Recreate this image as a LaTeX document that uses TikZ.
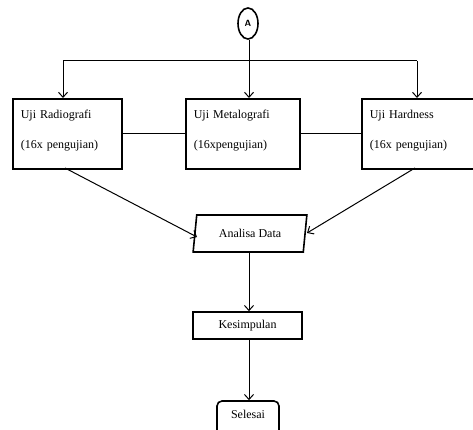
\documentclass[tikz,border=0pt]{standalone}
\usepackage{fontspec}
\setmainfont{Liberation Serif}
\usetikzlibrary{shapes.geometric,arrows.meta}

\begin{document}
\begin{tikzpicture}[x=1pt,y=-1pt]
\tikzstyle{every node}=[font=\fontsize{12}{15}\selectfont]
\tikzstyle{box}=[draw,line width=1.6pt,minimum height=70pt,align=left,anchor=north west,inner xsep=8pt]
\tikzstyle{arr}=[-{Straight Barb[length=5pt,width=9pt]},line width=1pt]
\useasboundingbox (0,0) rectangle (473,430);
\clip (0,0) rectangle (473,430);
\node[draw,ellipse,line width=1.6pt,minimum width=20pt,minimum height=31pt,inner sep=0pt,font=\fontsize{9}{10}\selectfont\bfseries\sffamily] (A) at (248,23.5) {A};
\node[box,minimum width=109pt,text width=93pt] (uji1) at (12,98) {Uji Radiografi\\[15pt](16x pengujian)\\[-6pt]\mbox{}};
\node[box,minimum width=114pt,text width=98pt] (uji2) at (185,98) {Uji Metalografi\\[15pt](16xpengujian)\\[-6pt]\mbox{}};
\node[box,minimum width=117pt,text width=101pt] (uji3) at (361,98) {Uji Hardness\\[15pt](16x pengujian)\\[-6pt]\mbox{}};
\node[draw,trapezium,trapezium left angle=76,trapezium right angle=104,trapezium stretches=true,line width=1.6pt,minimum width=114pt,minimum height=37pt,inner sep=0pt] (analisa) at (250,233.5) {Analisa Data};
\node[draw,line width=1.6pt,minimum width=109pt,minimum height=27pt,inner sep=0pt] (kes) at (247.5,325.5) {Kesimpulan};
\node[draw,line width=1.6pt,rounded corners=5pt,minimum width=62pt,minimum height=40pt,inner sep=0pt,text depth=14pt] (selesai) at (248,421) {Selesai};
\coordinate (jA) at (249,61);
\coordinate (j1) at (63,61);
\coordinate (j3) at (417,61);
\draw[line width=1pt] (A.south-|jA) -- (jA);
\draw[line width=1pt] (j1) -- (j3);
\draw[arr] (j1) -- (j1|-uji1.north);
\draw[arr] (jA) -- (jA|-uji2.north);
\draw[arr] (j3) -- (j3|-uji3.north);
\draw[line width=1pt] (uji1.east) -- (uji2.west);
\draw[line width=1pt] (uji2.east) -- (uji3.west);
\draw[arr] (65,168) -- (197,237);
\draw[arr] (415,168) -- (307,233);
\draw[arr] (analisa.south-|jA) -- (jA|-kes.north);
\draw[arr] (kes.south-|jA) -- (jA|-selesai.north);
\end{tikzpicture}
\end{document}
